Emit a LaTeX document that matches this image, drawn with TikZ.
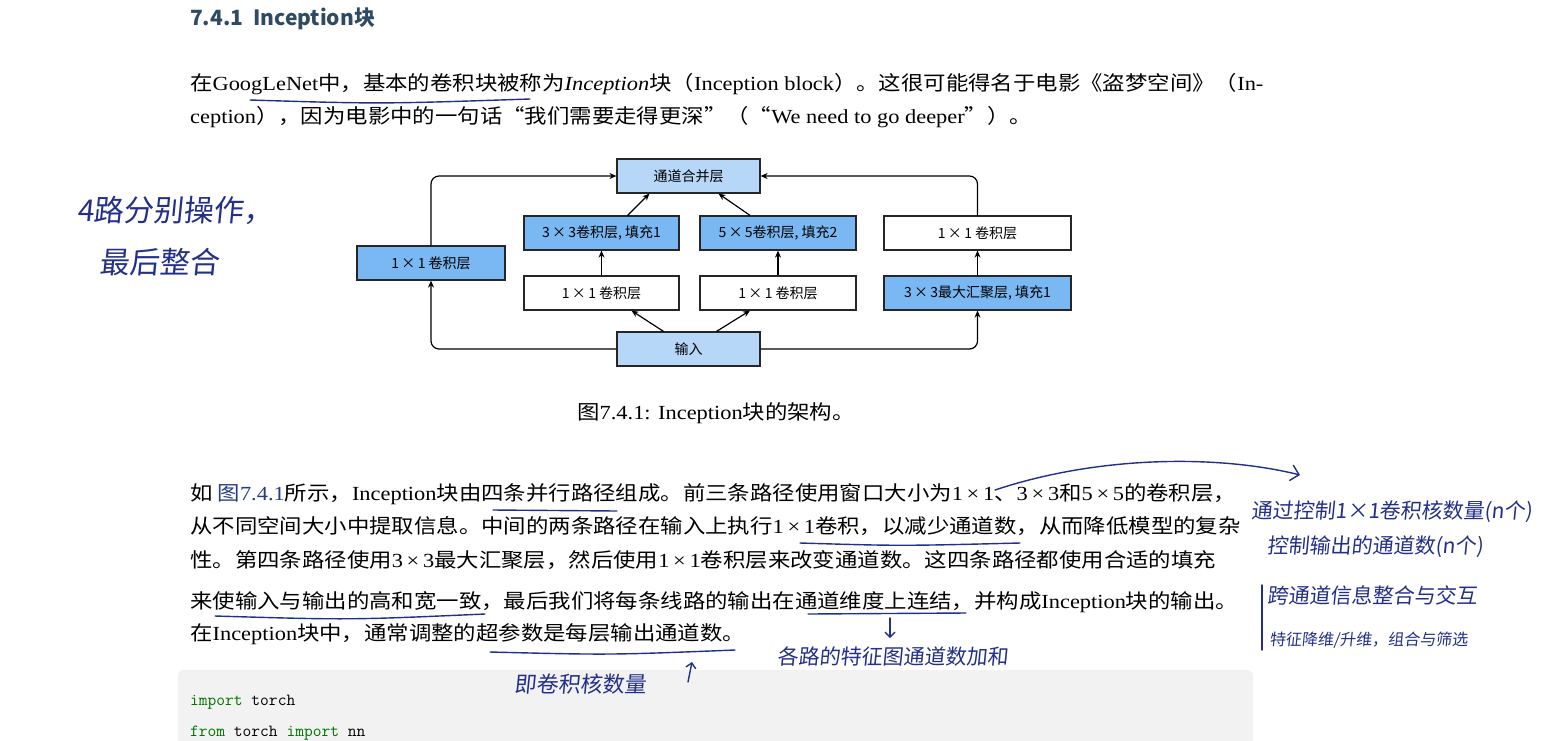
\documentclass[tikz,border=0pt]{standalone}
\usepackage{fontspec}
\usepackage{graphicx}
\setmainfont{Liberation Serif}
\newfontfamily\cjk{Noto Sans CJK SC}
\newcommand\C[1]{{\cjk #1}}
\newcommand\W[1]{\scalebox{1.12}[1]{#1}}
\usetikzlibrary{arrows.meta}
\definecolor{lb}{HTML}{B7D7F8}
\definecolor{db}{HTML}{79B8F2}
\definecolor{ink}{HTML}{23308A}
\definecolor{hd}{HTML}{2F4B63}
\begin{document}
\begin{tikzpicture}[x=1pt,y=-1pt,
  box/.style={draw=black!85,line width=1.2pt,minimum height=34pt,font=\cjk\fontsize{14}{16}\selectfont,inner sep=0pt},
  con/.style={line width=1.2pt,-{Stealth[length=7pt,width=6pt]},rounded corners=8pt},
  body/.style={anchor=west,inner sep=0pt,font=\fontsize{20}{22}\selectfont},
  hand/.style={font=\cjk\fontsize{21}{23}\selectfont,text=ink,inner sep=0pt,anchor=west,xslant=0.1},
  hl/.style={ink,line width=1.4pt,line cap=round}]
\useasboundingbox (0,0) rectangle (1549,740);
\fill[white] (0,0) rectangle (1549,740);
% heading
\node[anchor=west,inner sep=0pt,text=hd,font=\cjk\bfseries\fontsize{21}{24}\selectfont] (h) at (190,19) {7.4.1\hspace{10pt}Inception块};
% para 1
\node[body] (p1) at (190,84) {\W{\C{在}GoogLeNet\C{中，基本的卷积块被称为}\textit{Inception}\C{块（}Inception block\C{）。这很可能得名于电影《盗梦空间》（}In-}};
\node[body] (p2) at (190,117) {\W{ception\C{），因为电影中的一句话“我们需要走得更深”（“}We need to go deeper\C{”）。}}};
% diagram
\node[box,fill=lb,minimum width=143pt] (cat) at (688.5,176) {通道合并层};
\node[box,fill=db,minimum width=155pt] (c3) at (601.5,233) {3\,×\,3卷积层, 填充1};
\node[box,fill=db,minimum width=156pt] (c5) at (778,233) {5\,×\,5卷积层, 填充2};
\node[box,fill=white,minimum width=187pt] (c1r) at (977.5,233) {1\,×\,1 卷积层};
\node[box,fill=db,minimum width=148pt] (c1l) at (431,263) {1\,×\,1 卷积层};
\node[box,fill=white,minimum width=155pt] (a1) at (601.5,293) {1\,×\,1 卷积层};
\node[box,fill=white,minimum width=156pt] (a2) at (778,293) {1\,×\,1 卷积层};
\node[box,fill=db,minimum width=187pt] (mp) at (977.5,293) {3\,×\,3最大汇聚层, 填充1};
\node[box,fill=lb,minimum width=143pt] (in) at (688.5,349) {输入};
\draw[con] (c1l.north) |- (cat.west);
\draw[con] (c1r.north) |- (cat.east);
\draw[con] (in.west) -| (c1l.south);
\draw[con] (in.east) -| (mp.south);
\draw[con] ([xshift=26pt]c3.north) -- ([xshift=-39pt]cat.south);
\draw[con] ([xshift=-28pt]c5.north) -- ([xshift=30pt]cat.south);
\draw[con] (a1.north) -- (c3.south);
\draw[con] (a2.north) -- (c5.south);
\draw[con] (mp.north) -- (c1r.south);
\draw[con] ([xshift=-25pt]in.north) -- ([xshift=30pt]a1.south);
\draw[con] ([xshift=28pt]in.north) -- ([xshift=-28pt]a2.south);
% caption
\node[inner sep=0pt,font=\fontsize{20}{22}\selectfont] (cap) at (716,413) {\W{\C{图}7.4.1: Inception\C{块的架构。}}};
% para 2
\node[body] (q1) at (190,494) {\W{\C{如 }{\color{hd!80!blue}\C{图}7.4.1}\C{所示，}Inception\C{块由四条并行路径组成。前三条路径使用窗口大小为}1\,×\,1\C{、}3\,×\,3\C{和}5\,×\,5\C{的卷积层，}}};
\node[body] (q2) at (190,526) {\W{\C{从不同空间大小中提取信息。中间的两条路径在输入上执行}1\,×\,1\C{卷积，以减少通道数，从而降低模型的复杂}}};
\node[body] (q3) at (190,560) {\W{\C{性。第四条路径使用}3\,×\,3\C{最大汇聚层，然后使用}1\,×\,1\C{卷积层来改变通道数。这四条路径都使用合适的填充}}};
\node[body] (q4) at (190,602) {\W{\C{来使输入与输出的高和宽一致，最后我们将每条线路的输出在通道维度上连结，并构成}Inception\C{块的输出。}}};
\node[body] (q5) at (190,634) {\W{\C{在}Inception\C{块中，通常调整的超参数是每层输出通道数。}}};
% code block
\fill[black!5,rounded corners=6pt] (178,670) rectangle (1253,760);
\node[anchor=west,inner sep=0pt,font=\ttfamily\fontsize{17}{20}\selectfont] (k1) at (190,702) {{\color{green!45!black}import} torch};
\node[anchor=west,inner sep=0pt,font=\ttfamily\fontsize{17}{20}\selectfont] (k2) at (190,733) {{\color{green!45!black}from} torch {\color{green!45!black}import} nn};
% handwriting
\node[hand,font=\cjk\fontsize{30}{32}\selectfont] (n1) at (78,210) {4路分别操作，};
\node[hand,font=\cjk\fontsize{30}{32}\selectfont] (n2) at (100,262) {最后整合};
\node[hand] (n3) at (1252,512) {通过控制1×1卷积核数量(n个)};
\node[hand] (n4) at (1268,547) {控制输出的通道数(n个)};
\node[hand] (n5) at (1268,595) {跨通道信息整合与交互};
\node[hand,font=\cjk\fontsize{16}{18}\selectfont] (n6) at (1270,640) {特征降维/升维，组合与筛选};
\draw[hl] (1262,585) -- (1262,650);
\node[hand,font=\cjk\fontsize{22}{24}\selectfont] (n7) at (515,684) {即卷积核数量};
\node[hand] (n8) at (778,656) {各路的特征图通道数加和};
% underlines
\draw[hl] (250,100) .. controls (380,104) .. (530,99);
\draw[hl] (493,510) -- (617,511);
\draw[hl] (800,543) .. controls (900,546) .. (1020,543);
\draw[hl] (215,616) .. controls (350,620) .. (485,614);
\draw[hl] (808,614) -- (966,613);
\draw[hl] (490,652) .. controls (610,655) .. (735,650);
\draw[hl,-{Straight Barb[length=8pt]}] (995,490) .. controls (1100,455) and (1220,455) .. (1300,475);
\draw[hl,-{Straight Barb[length=5pt]}] (890,618) -- (890,638);
\draw[hl,-{Straight Barb[length=5pt]}] (688,682) -- (692,662);
\end{tikzpicture}
\end{document}
